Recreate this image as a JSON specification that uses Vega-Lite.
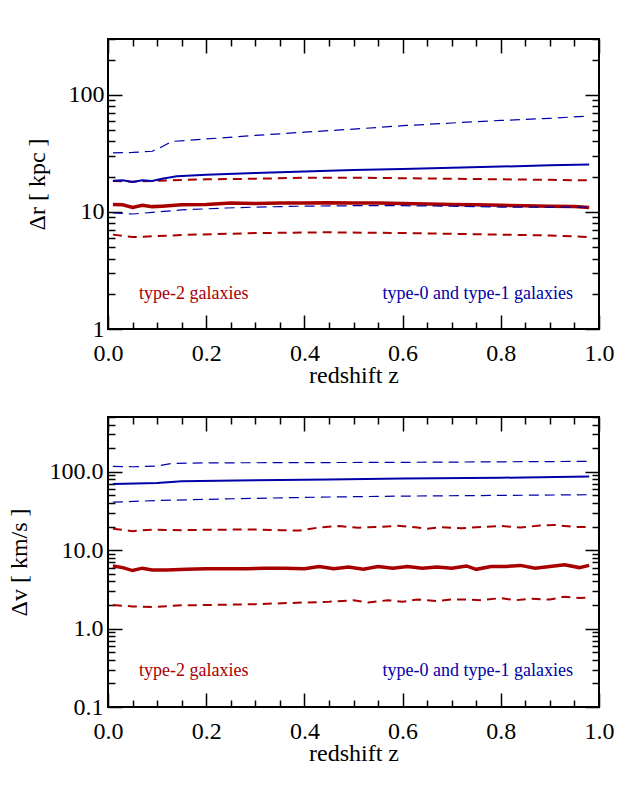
{
  "$schema": "https://vega.github.io/schema/vega-lite/v6.json",
  "autosize": "pad",
  "padding": {"left": 6, "top": 37, "right": 20, "bottom": 20},
  "background": "white",
  "bounds": "flush",
  "spacing": 88,
  "datasets": {
    "top": [
      {"s":"blue_hi","z":0.01,"v":32},{"s":"blue_hi","z":0.05,"v":32.2},{"s":"blue_hi","z":0.09,"v":33},{"s":"blue_hi","z":0.11,"v":36},{"s":"blue_hi","z":0.13,"v":40},{"s":"blue_hi","z":0.2,"v":42},{"s":"blue_hi","z":0.3,"v":45},{"s":"blue_hi","z":0.4,"v":48},{"s":"blue_hi","z":0.5,"v":51},{"s":"blue_hi","z":0.6,"v":54.5},{"s":"blue_hi","z":0.7,"v":57.5},{"s":"blue_hi","z":0.8,"v":60.5},{"s":"blue_hi","z":0.9,"v":63},{"s":"blue_hi","z":0.98,"v":66},
      {"s":"blue_med","z":0.01,"v":18.5},{"s":"blue_med","z":0.03,"v":18.6},{"s":"blue_med","z":0.05,"v":18.0},{"s":"blue_med","z":0.07,"v":18.6},{"s":"blue_med","z":0.09,"v":18.4},{"s":"blue_med","z":0.11,"v":19.2},{"s":"blue_med","z":0.14,"v":20.2},{"s":"blue_med","z":0.2,"v":20.8},{"s":"blue_med","z":0.3,"v":21.5},{"s":"blue_med","z":0.4,"v":22.2},{"s":"blue_med","z":0.5,"v":22.8},{"s":"blue_med","z":0.6,"v":23.3},{"s":"blue_med","z":0.7,"v":23.8},{"s":"blue_med","z":0.8,"v":24.4},{"s":"blue_med","z":0.9,"v":25.0},{"s":"blue_med","z":0.98,"v":25.4},
      {"s":"blue_lo","z":0.01,"v":9.8},{"s":"blue_lo","z":0.05,"v":9.6},{"s":"blue_lo","z":0.09,"v":9.9},{"s":"blue_lo","z":0.15,"v":10.4},{"s":"blue_lo","z":0.24,"v":10.8},{"s":"blue_lo","z":0.3,"v":11.0},{"s":"blue_lo","z":0.4,"v":11.2},{"s":"blue_lo","z":0.5,"v":11.3},{"s":"blue_lo","z":0.6,"v":11.3},{"s":"blue_lo","z":0.7,"v":11.2},{"s":"blue_lo","z":0.8,"v":11.0},{"s":"blue_lo","z":0.9,"v":11.0},{"s":"blue_lo","z":0.98,"v":11.0},
      {"s":"red_hi","z":0.01,"v":18.4},{"s":"red_hi","z":0.05,"v":18.1},{"s":"red_hi","z":0.1,"v":18.5},{"s":"red_hi","z":0.2,"v":19.0},{"s":"red_hi","z":0.3,"v":19.2},{"s":"red_hi","z":0.4,"v":19.6},{"s":"red_hi","z":0.5,"v":19.6},{"s":"red_hi","z":0.6,"v":19.4},{"s":"red_hi","z":0.7,"v":19.2},{"s":"red_hi","z":0.8,"v":19.0},{"s":"red_hi","z":0.9,"v":18.8},{"s":"red_hi","z":0.98,"v":18.6},
      {"s":"red_med","z":0.01,"v":11.6},{"s":"red_med","z":0.03,"v":11.5},{"s":"red_med","z":0.05,"v":10.9},{"s":"red_med","z":0.07,"v":11.4},{"s":"red_med","z":0.09,"v":11.1},{"s":"red_med","z":0.11,"v":11.2},{"s":"red_med","z":0.15,"v":11.5},{"s":"red_med","z":0.2,"v":11.6},{"s":"red_med","z":0.25,"v":11.9},{"s":"red_med","z":0.3,"v":11.8},{"s":"red_med","z":0.35,"v":11.9},{"s":"red_med","z":0.4,"v":11.9},{"s":"red_med","z":0.45,"v":12.0},{"s":"red_med","z":0.5,"v":11.9},{"s":"red_med","z":0.55,"v":11.9},{"s":"red_med","z":0.6,"v":11.8},{"s":"red_med","z":0.65,"v":11.7},{"s":"red_med","z":0.7,"v":11.6},{"s":"red_med","z":0.75,"v":11.5},{"s":"red_med","z":0.8,"v":11.4},{"s":"red_med","z":0.85,"v":11.3},{"s":"red_med","z":0.9,"v":11.2},{"s":"red_med","z":0.95,"v":11.1},{"s":"red_med","z":0.98,"v":10.9},
      {"s":"red_lo","z":0.01,"v":6.4},{"s":"red_lo","z":0.05,"v":6.1},{"s":"red_lo","z":0.09,"v":6.2},{"s":"red_lo","z":0.15,"v":6.35},{"s":"red_lo","z":0.3,"v":6.6},{"s":"red_lo","z":0.45,"v":6.7},{"s":"red_lo","z":0.6,"v":6.6},{"s":"red_lo","z":0.75,"v":6.45},{"s":"red_lo","z":0.9,"v":6.3},{"s":"red_lo","z":0.98,"v":6.1}
    ],
    "bot": [
      {"s":"blue_hi","z":0.01,"v":117},{"s":"blue_hi","z":0.05,"v":116},{"s":"blue_hi","z":0.1,"v":118},{"s":"blue_hi","z":0.13,"v":128},{"s":"blue_hi","z":0.2,"v":130},{"s":"blue_hi","z":0.4,"v":131},{"s":"blue_hi","z":0.6,"v":132},{"s":"blue_hi","z":0.8,"v":134},{"s":"blue_hi","z":0.98,"v":136},
      {"s":"blue_med","z":0.01,"v":70},{"s":"blue_med","z":0.1,"v":72},{"s":"blue_med","z":0.15,"v":76},{"s":"blue_med","z":0.3,"v":78},{"s":"blue_med","z":0.45,"v":80},{"s":"blue_med","z":0.6,"v":82},{"s":"blue_med","z":0.8,"v":84},{"s":"blue_med","z":0.98,"v":87},
      {"s":"blue_lo","z":0.01,"v":41},{"s":"blue_lo","z":0.1,"v":43},{"s":"blue_lo","z":0.23,"v":45},{"s":"blue_lo","z":0.43,"v":47.5},{"s":"blue_lo","z":0.6,"v":49},{"s":"blue_lo","z":0.8,"v":50},{"s":"blue_lo","z":0.98,"v":51},
      {"s":"red_hi","z":0.01,"v":18.8},{"s":"red_hi","z":0.05,"v":17.5},{"s":"red_hi","z":0.09,"v":18.3},{"s":"red_hi","z":0.15,"v":18.0},{"s":"red_hi","z":0.2,"v":18.2},{"s":"red_hi","z":0.25,"v":18.3},{"s":"red_hi","z":0.3,"v":18.4},{"s":"red_hi","z":0.35,"v":18.0},{"s":"red_hi","z":0.39,"v":17.8},{"s":"red_hi","z":0.43,"v":19.5},{"s":"red_hi","z":0.47,"v":20.3},{"s":"red_hi","z":0.51,"v":19.4},{"s":"red_hi","z":0.55,"v":19.8},{"s":"red_hi","z":0.59,"v":20.5},{"s":"red_hi","z":0.63,"v":19.5},{"s":"red_hi","z":0.65,"v":18.8},{"s":"red_hi","z":0.68,"v":19.6},{"s":"red_hi","z":0.72,"v":19.0},{"s":"red_hi","z":0.76,"v":19.8},{"s":"red_hi","z":0.8,"v":20.4},{"s":"red_hi","z":0.84,"v":19.5},{"s":"red_hi","z":0.88,"v":20.6},{"s":"red_hi","z":0.91,"v":21.0},{"s":"red_hi","z":0.95,"v":19.8},{"s":"red_hi","z":0.98,"v":19.8},
      {"s":"red_med","z":0.01,"v":6.3},{"s":"red_med","z":0.03,"v":6.0},{"s":"red_med","z":0.05,"v":5.5},{"s":"red_med","z":0.07,"v":5.9},{"s":"red_med","z":0.09,"v":5.6},{"s":"red_med","z":0.12,"v":5.6},{"s":"red_med","z":0.16,"v":5.7},{"s":"red_med","z":0.2,"v":5.8},{"s":"red_med","z":0.24,"v":5.8},{"s":"red_med","z":0.28,"v":5.8},{"s":"red_med","z":0.32,"v":5.9},{"s":"red_med","z":0.36,"v":5.9},{"s":"red_med","z":0.4,"v":5.8},{"s":"red_med","z":0.43,"v":6.2},{"s":"red_med","z":0.46,"v":5.8},{"s":"red_med","z":0.49,"v":6.1},{"s":"red_med","z":0.52,"v":5.7},{"s":"red_med","z":0.55,"v":6.2},{"s":"red_med","z":0.58,"v":5.9},{"s":"red_med","z":0.61,"v":6.2},{"s":"red_med","z":0.64,"v":5.9},{"s":"red_med","z":0.67,"v":6.1},{"s":"red_med","z":0.7,"v":5.9},{"s":"red_med","z":0.73,"v":6.3},{"s":"red_med","z":0.75,"v":5.7},{"s":"red_med","z":0.78,"v":6.2},{"s":"red_med","z":0.81,"v":6.2},{"s":"red_med","z":0.84,"v":6.4},{"s":"red_med","z":0.87,"v":5.9},{"s":"red_med","z":0.9,"v":6.2},{"s":"red_med","z":0.93,"v":6.5},{"s":"red_med","z":0.96,"v":6.0},{"s":"red_med","z":0.98,"v":6.4},
      {"s":"red_lo","z":0.01,"v":2.0},{"s":"red_lo","z":0.05,"v":1.92},{"s":"red_lo","z":0.09,"v":1.88},{"s":"red_lo","z":0.15,"v":1.98},{"s":"red_lo","z":0.2,"v":2.0},{"s":"red_lo","z":0.3,"v":2.05},{"s":"red_lo","z":0.4,"v":2.15},{"s":"red_lo","z":0.45,"v":2.2},{"s":"red_lo","z":0.5,"v":2.3},{"s":"red_lo","z":0.53,"v":2.15},{"s":"red_lo","z":0.57,"v":2.3},{"s":"red_lo","z":0.6,"v":2.2},{"s":"red_lo","z":0.63,"v":2.35},{"s":"red_lo","z":0.67,"v":2.25},{"s":"red_lo","z":0.7,"v":2.35},{"s":"red_lo","z":0.73,"v":2.35},{"s":"red_lo","z":0.76,"v":2.3},{"s":"red_lo","z":0.8,"v":2.45},{"s":"red_lo","z":0.83,"v":2.3},{"s":"red_lo","z":0.86,"v":2.4},{"s":"red_lo","z":0.9,"v":2.35},{"s":"red_lo","z":0.93,"v":2.55},{"s":"red_lo","z":0.96,"v":2.45},{"s":"red_lo","z":0.98,"v":2.5}
    ]
  },
  "vconcat": [
    {
      "width": 491, "height": 290,
      "data": {"name": "top"},
      "layer": [
        {
          "transform": [{"filter": "datum.s === 'red_med'"}],
          "mark": {"type": "line", "color": "#A80000", "strokeWidth": 3.5},
          "encoding": {
            "x": {"field": "z", "type": "quantitative", "scale": {"domain": [0, 1], "nice": false, "zero": false},
                  "axis": {"orient": "bottom", "values": [0, 0.2, 0.4, 0.6, 0.8, 1.0], "format": ".1f", "tickSize": -14, "labelPadding": 26, "title": "redshift z", "titleY": 53, "titleBaseline": "alphabetic"}},
            "y": {"field": "v", "type": "quantitative", "scale": {"type": "log", "domain": [1, 300], "nice": false},
                  "axis": {"orient": "left", "values": [1, 10, 100], "format": "d", "tickSize": -14, "labelPadding": 18, "title": "Δr  [ kpc ]", "titleX": -71, "titleBaseline": "middle"}}
          }
        },
        {
          "transform": [{"filter": "datum.s === 'red_hi' || datum.s === 'red_lo'"}],
          "mark": {"type": "line", "color": "#A80000", "strokeWidth": 2, "strokeDash": [9, 6]},
          "encoding": {
            "x": {"field": "z", "type": "quantitative", "axis": {"orient": "top", "values": [0, 0.2, 0.4, 0.6, 0.8, 1.0], "tickSize": -14, "labels": false, "title": null}},
            "y": {"field": "v", "type": "quantitative", "axis": {"orient": "right", "values": [1, 10, 100], "tickSize": -14, "labels": false, "title": null}},
            "detail": {"field": "s"}
          }
        },
        {
          "transform": [{"filter": "datum.s === 'blue_med'"}],
          "mark": {"type": "line", "color": "#0000A8", "strokeWidth": 2},
          "encoding": {
            "x": {"field": "z", "type": "quantitative", "axis": {"orient": "bottom", "values": [0.05, 0.1, 0.15, 0.25, 0.3, 0.35, 0.45, 0.5, 0.55, 0.65, 0.7, 0.75, 0.85, 0.9, 0.95], "tickSize": -7, "labels": false, "title": null}},
            "y": {"field": "v", "type": "quantitative", "axis": {"orient": "left", "values": [2, 3, 4, 5, 6, 7, 8, 9, 20, 30, 40, 50, 60, 70, 80, 90, 200, 300], "tickSize": -7, "labels": false, "title": null}}
          }
        },
        {
          "transform": [{"filter": "datum.s === 'blue_hi' || datum.s === 'blue_lo'"}],
          "mark": {"type": "line", "color": "#0000A8", "strokeWidth": 1.2, "strokeDash": [10, 6]},
          "encoding": {
            "x": {"field": "z", "type": "quantitative", "axis": {"orient": "top", "values": [0.05, 0.1, 0.15, 0.25, 0.3, 0.35, 0.45, 0.5, 0.55, 0.65, 0.7, 0.75, 0.85, 0.9, 0.95], "tickSize": -7, "labels": false, "title": null}},
            "y": {"field": "v", "type": "quantitative", "axis": {"orient": "right", "values": [2, 3, 4, 5, 6, 7, 8, 9, 20, 30, 40, 50, 60, 70, 80, 90, 200, 300], "tickSize": -7, "labels": false, "title": null}},
            "detail": {"field": "s"}
          }
        },
        {
          "data": {"values": [{"z": 0.063, "v": 1.81, "label": "type-2 galaxies"}]},
          "mark": {"type": "text", "color": "#A80000", "fontSize": 18, "align": "left", "baseline": "alphabetic"},
          "encoding": {
            "x": {"field": "z", "type": "quantitative", "axis": null},
            "y": {"field": "v", "type": "quantitative", "axis": null},
            "text": {"field": "label"}
          }
        },
        {
          "data": {"values": [{"z": 0.947, "v": 1.81, "label": "type-0 and type-1 galaxies"}]},
          "mark": {"type": "text", "color": "#0000A8", "fontSize": 18, "align": "right", "baseline": "alphabetic"},
          "encoding": {
            "x": {"field": "z", "type": "quantitative", "axis": null},
            "y": {"field": "v", "type": "quantitative", "axis": null},
            "text": {"field": "label"}
          }
        }
      ],
      "resolve": {"axis": {"x": "independent", "y": "independent"}}
    },
    {
      "width": 491, "height": 290,
      "data": {"name": "bot"},
      "layer": [
        {
          "transform": [{"filter": "datum.s === 'red_med'"}],
          "mark": {"type": "line", "color": "#A80000", "strokeWidth": 3.5},
          "encoding": {
            "x": {"field": "z", "type": "quantitative", "scale": {"domain": [0, 1], "nice": false, "zero": false},
                  "axis": {"orient": "bottom", "values": [0, 0.2, 0.4, 0.6, 0.8, 1.0], "format": ".1f", "tickSize": -14, "labelPadding": 26, "title": "redshift z", "titleY": 53, "titleBaseline": "alphabetic"}},
            "y": {"field": "v", "type": "quantitative", "scale": {"type": "log", "domain": [0.1, 500], "nice": false},
                  "axis": {"orient": "left", "values": [0.1, 1, 10, 100], "format": ".1f", "tickSize": -14, "labelPadding": 19, "title": "Δv  [ km/s ]", "titleX": -89, "titleBaseline": "middle"}}
          }
        },
        {
          "transform": [{"filter": "datum.s === 'red_hi' || datum.s === 'red_lo'"}],
          "mark": {"type": "line", "color": "#A80000", "strokeWidth": 2, "strokeDash": [9, 6]},
          "encoding": {
            "x": {"field": "z", "type": "quantitative", "axis": {"orient": "top", "values": [0, 0.2, 0.4, 0.6, 0.8, 1.0], "tickSize": -14, "labels": false, "title": null}},
            "y": {"field": "v", "type": "quantitative", "axis": {"orient": "right", "values": [0.1, 1, 10, 100], "tickSize": -14, "labels": false, "title": null}},
            "detail": {"field": "s"}
          }
        },
        {
          "transform": [{"filter": "datum.s === 'blue_med'"}],
          "mark": {"type": "line", "color": "#0000A8", "strokeWidth": 2},
          "encoding": {
            "x": {"field": "z", "type": "quantitative", "axis": {"orient": "bottom", "values": [0.05, 0.1, 0.15, 0.25, 0.3, 0.35, 0.45, 0.5, 0.55, 0.65, 0.7, 0.75, 0.85, 0.9, 0.95], "tickSize": -7, "labels": false, "title": null}},
            "y": {"field": "v", "type": "quantitative", "axis": {"orient": "left", "values": [0.2, 0.3, 0.4, 0.5, 0.6, 0.7, 0.8, 0.9, 2, 3, 4, 5, 6, 7, 8, 9, 20, 30, 40, 50, 60, 70, 80, 90, 200, 300, 400, 500], "tickSize": -7, "labels": false, "title": null}}
          }
        },
        {
          "transform": [{"filter": "datum.s === 'blue_hi' || datum.s === 'blue_lo'"}],
          "mark": {"type": "line", "color": "#0000A8", "strokeWidth": 1.2, "strokeDash": [10, 6]},
          "encoding": {
            "x": {"field": "z", "type": "quantitative", "axis": {"orient": "top", "values": [0.05, 0.1, 0.15, 0.25, 0.3, 0.35, 0.45, 0.5, 0.55, 0.65, 0.7, 0.75, 0.85, 0.9, 0.95], "tickSize": -7, "labels": false, "title": null}},
            "y": {"field": "v", "type": "quantitative", "axis": {"orient": "right", "values": [0.2, 0.3, 0.4, 0.5, 0.6, 0.7, 0.8, 0.9, 2, 3, 4, 5, 6, 7, 8, 9, 20, 30, 40, 50, 60, 70, 80, 90, 200, 300, 400, 500], "tickSize": -7, "labels": false, "title": null}},
            "detail": {"field": "s"}
          }
        },
        {
          "data": {"values": [{"z": 0.063, "v": 0.247, "label": "type-2 galaxies"}]},
          "mark": {"type": "text", "color": "#A80000", "fontSize": 18, "align": "left", "baseline": "alphabetic"},
          "encoding": {
            "x": {"field": "z", "type": "quantitative", "axis": null},
            "y": {"field": "v", "type": "quantitative", "axis": null},
            "text": {"field": "label"}
          }
        },
        {
          "data": {"values": [{"z": 0.947, "v": 0.247, "label": "type-0 and type-1 galaxies"}]},
          "mark": {"type": "text", "color": "#0000A8", "fontSize": 18, "align": "right", "baseline": "alphabetic"},
          "encoding": {
            "x": {"field": "z", "type": "quantitative", "axis": null},
            "y": {"field": "v", "type": "quantitative", "axis": null},
            "text": {"field": "label"}
          }
        }
      ],
      "resolve": {"axis": {"x": "independent", "y": "independent"}}
    }
  ],
  "config": {
    "font": "Liberation Serif",
    "view": {"stroke": "#000", "strokeWidth": 2},
    "axis": {
      "domain": false, "grid": false, "ticks": true,
      "tickColor": "#000", "tickWidth": 1.5,
      "labelFont": "Liberation Serif", "labelFontSize": 24, "labelColor": "#000",
      "labelFlush": false, "labelOverlap": false, "labelBound": false,
      "titleFont": "Liberation Serif", "titleFontSize": 24, "titleFontWeight": "normal", "titleColor": "#000"
    }
  }
}
